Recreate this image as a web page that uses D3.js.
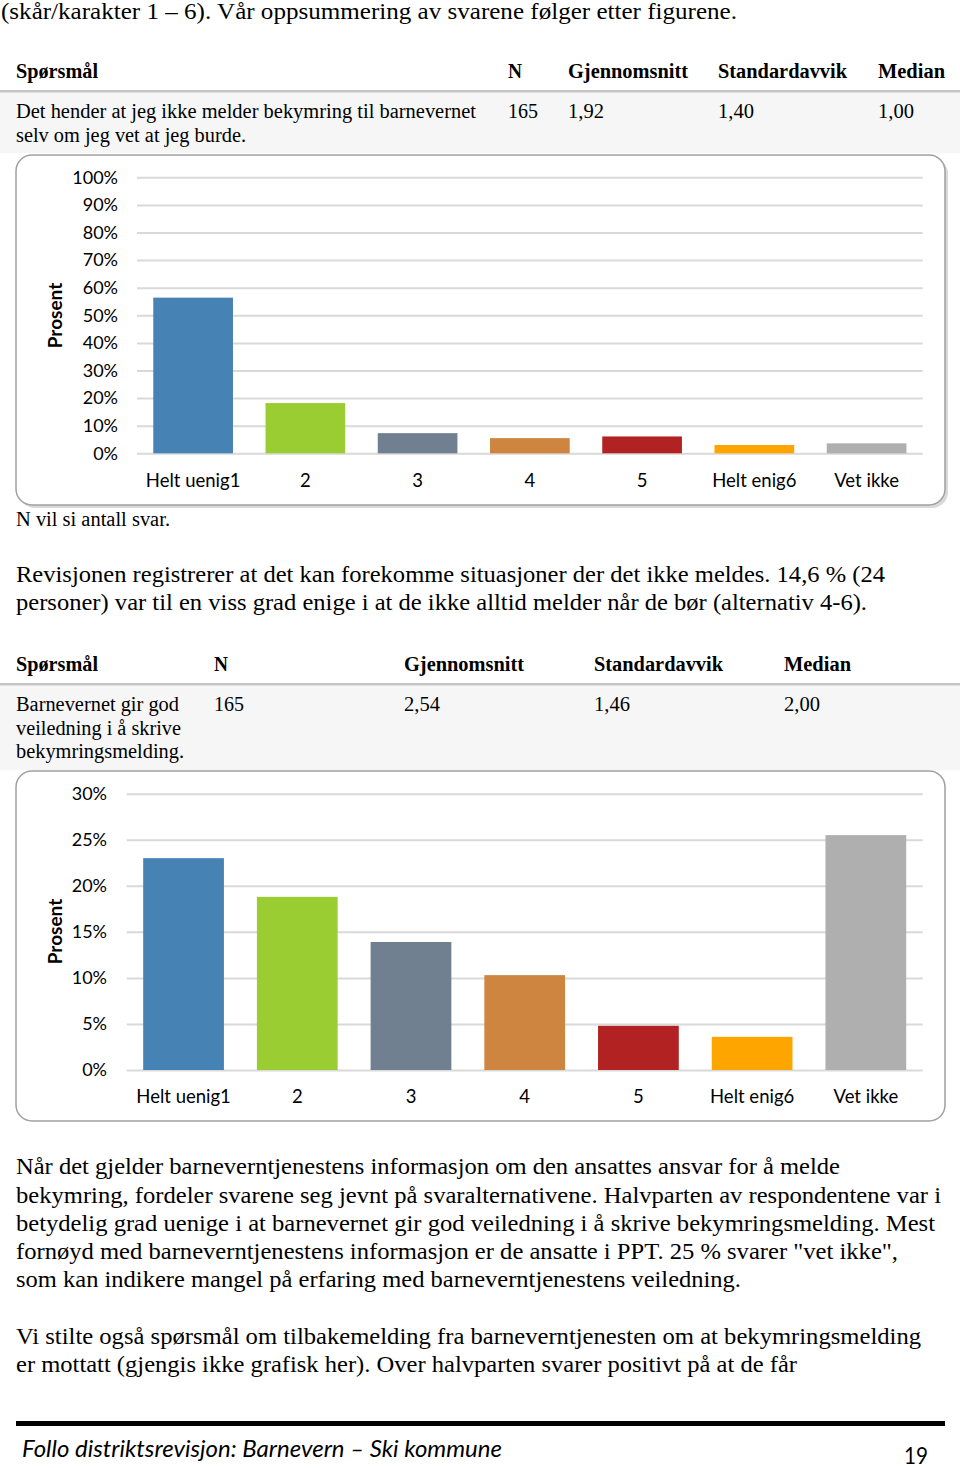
<!DOCTYPE html>
<html>
<head>
<meta charset="utf-8">
<script src="https://cdn.jsdelivr.net/npm/d3@7"></script>
<style>
  body { margin: 0; background: #fff; }
  svg { display: block; }
</style>
</head>
<body>
<svg id="page" width="960" height="1468"></svg>
<script>
// ---------------- DATA ----------------
const categories = ["Helt uenig1", "2", "3", "4", "5", "Helt enig6", "Vet ikke"];
const barColors = ["#4682b4", "#9acd32", "#708090", "#cd853f", "#b22222", "#ffa500", "#afafaf"];

const chart1Values = [56.4, 18.2, 7.3, 5.5, 6.1, 3.0, 3.6];
const chart1Ticks = [0, 10, 20, 30, 40, 50, 60, 70, 80, 90, 100];

const chart2Values = [23.0, 18.8, 13.9, 10.3, 4.8, 3.6, 25.5];
const chart2Ticks = [0, 5, 10, 15, 20, 25, 30];

const yAxisTitle = "Prosent";

const tableHeaders = ["Spørsmål", "N", "Gjennomsnitt", "Standardavvik", "Median"];
const table1Question = ["Det hender at jeg ikke melder bekymring til barnevernet", "selv om jeg vet at jeg burde."];
const table1Stats = ["165", "1,92", "1,40", "1,00"];
const table2Question = ["Barnevernet gir god", "veiledning i å skrive", "bekymringsmelding."];
const table2Stats = ["165", "2,54", "1,46", "2,00"];

const introLine = "(skår/karakter 1 – 6). Vår oppsummering av svarene følger etter figurene.";
const footnote = "N vil si antall svar.";
const paragraph1 = [
  "Revisjonen registrerer at det kan forekomme situasjoner der det ikke meldes. 14,6 % (24",
  "personer) var til en viss grad enige i at de ikke alltid melder når de bør (alternativ 4-6)."
];
const paragraph2 = [
  "Når det gjelder barneverntjenestens informasjon om den ansattes ansvar for å melde",
  "bekymring, fordeler svarene seg jevnt på svaralternativene. Halvparten av respondentene var i",
  "betydelig grad uenige i at barnevernet gir god veiledning i å skrive bekymringsmelding. Mest",
  "fornøyd med barneverntjenestens informasjon er de ansatte i PPT. 25 % svarer \"vet ikke\",",
  "som kan indikere mangel på erfaring med barneverntjenestens veiledning."
];
const paragraph3 = [
  "Vi stilte også spørsmål om tilbakemelding fra barneverntjenesten om at bekymringsmelding",
  "er mottatt (gjengis ikke grafisk her). Over halvparten svarer positivt på at de får"
];
const footerText = "Follo distriktsrevisjon: Barnevern – Ski kommune";
const pageNumber = "19";

// ---------------- LAYOUT ----------------
const SERIF = "'Liberation Serif', 'Times New Roman', serif";
const SANS = "Lato, 'Open Sans', 'Liberation Sans', sans-serif";

const svg = d3.select("#page");

function put(sel, str, x, y, o = {}) {
  const t = sel.append("text")
    .attr("x", x).attr("y", y)
    .attr("font-family", o.family || SERIF)
    .attr("font-size", o.size || 20)
    .attr("fill", o.fill || "#000")
    .text(str);
  if (o.weight) t.attr("font-weight", o.weight);
  if (o.style) t.attr("font-style", o.style);
  if (o.anchor) t.attr("text-anchor", o.anchor);
  if (o.len) t.attr("textLength", o.len).attr("lengthAdjust", "spacingAndGlyphs");
  return t;
}

// intro line
put(svg, introLine, 1, 19, { size: 23, len: 736 });

// ---- tables ----
function drawTable(cfg) {
  const g = svg.append("g");
  g.append("rect").attr("x", 0).attr("y", cfg.rowTop).attr("width", 960)
    .attr("height", cfg.rowBottom - cfg.rowTop).attr("fill", "#f6f6f6");
  g.append("rect").attr("x", 0).attr("y", cfg.lineY).attr("width", 960)
    .attr("height", 2.5).attr("fill", "#c4c4c4");
  tableHeaders.forEach((h, i) => {
    put(g, h, cfg.colX[i], cfg.headerY, { size: 20, weight: "bold", len: cfg.headerLen[i] });
  });
  cfg.question.forEach((q, i) => {
    put(g, q, cfg.colX[0], cfg.rowY[i], { size: 20, len: cfg.qLen[i] });
  });
  cfg.stats.forEach((s, i) => {
    put(g, s, cfg.colX[i + 1], cfg.rowY[0], { size: 20, len: cfg.statLen[i] });
  });
}

drawTable({
  colX: [16, 508, 568, 718, 878],
  headerY: 78,
  headerLen: [82, 14, 120, 129, 67],
  lineY: 90,
  rowTop: 92.5, rowBottom: 153,
  question: table1Question,
  rowY: [118, 142],
  qLen: [460, 230],
  stats: table1Stats,
  statLen: [30, 36, 36, 36]
});

drawTable({
  colX: [16, 214, 404, 594, 784],
  headerY: 671,
  headerLen: [82, 14, 120, 129, 67],
  lineY: 683,
  rowTop: 685.5, rowBottom: 770,
  question: table2Question,
  rowY: [711, 735, 758],
  qLen: [163, 165, 168],
  stats: table2Stats,
  statLen: [30, 36, 36, 36]
});

// ---- charts ----
function drawChart(cfg) {
  const g = svg.append("g");
  if (cfg.shadow) {
    g.append("rect").attr("x", cfg.boxX + 3).attr("y", cfg.boxY + 3)
      .attr("width", cfg.boxW).attr("height", cfg.boxH).attr("rx", 16)
      .attr("fill", "#d9d9d9");
  }
  g.append("rect").attr("x", cfg.boxX).attr("y", cfg.boxY)
    .attr("width", cfg.boxW).attr("height", cfg.boxH).attr("rx", 16)
    .attr("fill", "#fff").attr("stroke", "#a0a0a0").attr("stroke-width", 1.5);

  const y = d3.scaleLinear().domain([0, cfg.max]).range([cfg.y0, cfg.yTop]);
  const x = d3.scaleBand().domain(categories)
    .range([cfg.left, cfg.right]).paddingInner(0.29).paddingOuter(0.145);

  const yAxis = g.append("g")
    .attr("transform", `translate(${cfg.left},0)`)
    .call(d3.axisLeft(y).tickValues(cfg.ticks)
      .tickSize(-(cfg.right - cfg.left))
      .tickPadding(cfg.left - cfg.labelRight)
      .tickFormat(d => d + "%"));
  yAxis.select(".domain").remove();
  yAxis.selectAll(".tick line").attr("stroke", "#d9d9d9").attr("stroke-width", 2);
  yAxis.selectAll(".tick text")
    .attr("font-family", SANS).attr("font-size", 18).attr("fill", "#000");

  g.selectAll("rect.bar").data(cfg.values).enter().append("rect")
    .attr("class", "bar")
    .attr("x", (d, i) => x(categories[i]))
    .attr("width", x.bandwidth())
    .attr("y", d => y(d))
    .attr("height", d => y(0) - y(d))
    .attr("fill", (d, i) => barColors[i]);

  const xAxis = g.append("g")
    .attr("transform", `translate(0,${cfg.y0})`)
    .call(d3.axisBottom(x).tickSize(0));
  xAxis.select(".domain").remove();
  xAxis.selectAll(".tick text")
    .attr("y", 33.4).attr("dy", 0)
    .attr("font-family", SANS).attr("font-size", 18.5).attr("fill", "#000");

  g.append("text")
    .attr("transform", `translate(${cfg.titleX},${cfg.titleY}) rotate(-90)`)
    .attr("text-anchor", "middle")
    .attr("font-family", SANS).attr("font-size", 19).attr("font-weight", "bold")
    .text(yAxisTitle);
}

drawChart({
  boxX: 16, boxY: 155, boxW: 929, boxH: 350, shadow: true,
  left: 137, right: 922.7, y0: 453.3, yTop: 177.3,
  max: 100, ticks: chart1Ticks, values: chart1Values,
  labelRight: 118, titleX: 62, titleY: 315.5
});

drawChart({
  boxX: 16, boxY: 771, boxW: 929, boxH: 350, shadow: false,
  left: 126.7, right: 922.7, y0: 1070, yTop: 793.7,
  max: 30, ticks: chart2Ticks, values: chart2Values,
  labelRight: 107, titleX: 62, titleY: 931.5
});

// footnote + paragraphs
put(svg, footnote, 16, 526, { size: 20, len: 154 });

const p1Y = [582, 610], p1Len = [869, 851];
paragraph1.forEach((l, i) => put(svg, l, 16, p1Y[i], { size: 23, len: p1Len[i] }));

const p2Y = [1174, 1203, 1231, 1259, 1287], p2Len = [824, 925, 919, 882, 725];
paragraph2.forEach((l, i) => put(svg, l, 16, p2Y[i], { size: 23, len: p2Len[i] }));

const p3Y = [1344, 1372], p3Len = [905, 781];
paragraph3.forEach((l, i) => put(svg, l, 16, p3Y[i], { size: 23, len: p3Len[i] }));

// footer
svg.append("rect").attr("x", 16).attr("y", 1421).attr("width", 929).attr("height", 5).attr("fill", "#000");
put(svg, footerText, 22, 1457, { family: SANS, size: 23, style: "italic", len: 480 });
put(svg, pageNumber, 904, 1464, { family: SANS, size: 23, len: 24 });
</script>
</body>
</html>
